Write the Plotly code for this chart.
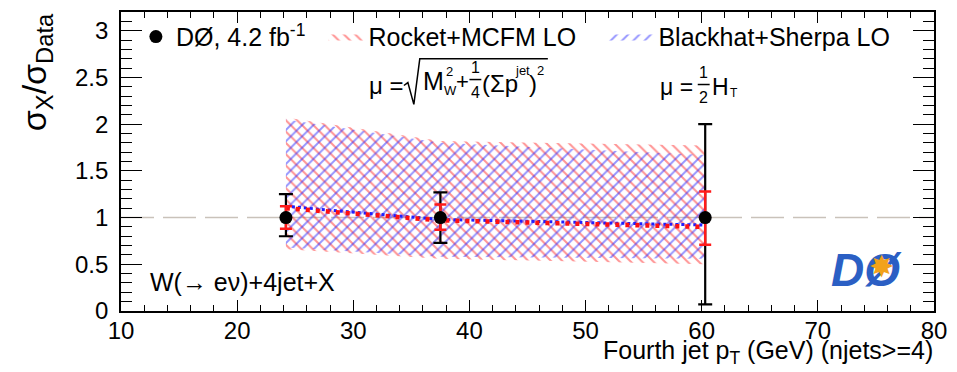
import plotly.graph_objects as go

# ---------------- data ----------------
pt = [24.2, 37.5, 60.3]                      # fourth jet pT bin positions (GeV)
data_ratio = [1.0, 1.0, 1.0]
data_err_up = [0.25, 0.27, 1.00]
data_err_dn = [0.20, 0.27, 0.93]

rocket_stat_up = [0.12, 0.14, 0.28]
rocket_stat_dn = [0.12, 0.13, 0.29]

rocket_central = [1.10, 0.97, 0.90]
rocket_upper = [2.07, 1.82, 1.77]
rocket_lower = [0.66, 0.56, 0.50]

blackhat_central = [1.12, 0.98, 0.92]
blackhat_upper = [2.05, 1.80, 1.67]
blackhat_lower = [0.68, 0.58, 0.56]

x_range = [10, 80]
y_range = [0, 3.2]

# ---------------- geometry helpers (plot frame in pixels) ----------------
W, H = 957, 372
L, R, T, B = 121, 940, 10, 311


def px(x):
    return (x - L) / (R - L)


def py(y):
    return (B - y) / (B - T)


FONT = "Liberation Sans"

fig = go.Figure()

# reference line at 1
fig.add_trace(go.Scatter(x=x_range, y=[1, 1], mode="lines",
                         line=dict(color="#c9c2ba", width=1.5, dash="33px,9px"),
                         showlegend=False, hoverinfo="skip"))

# Rocket band (red, backslash hatch)
fig.add_trace(go.Scatter(
    x=pt + pt[::-1], y=rocket_upper + rocket_lower[::-1],
    fill="toself", mode="lines", line=dict(width=0, color="red"),
    fillcolor="rgba(0,0,0,0)",
    fillpattern=dict(shape="\\", fgcolor="#ff2a2a", bgcolor="rgba(0,0,0,0)",
                     size=8, solidity=0.26),
    name="Rocket+MCFM LO", legend="legend2", hoverinfo="skip"))

# Blackhat band (blue, slash hatch)
fig.add_trace(go.Scatter(
    x=pt + pt[::-1], y=blackhat_upper + blackhat_lower[::-1],
    fill="toself", mode="lines", line=dict(width=0, color="blue"),
    fillcolor="rgba(0,0,0,0)",
    fillpattern=dict(shape="/", fgcolor="#2a2aff", bgcolor="rgba(0,0,0,0)",
                     size=8, solidity=0.24),
    name="Blackhat+Sherpa LO", legend="legend3", hoverinfo="skip"))

# central predictions
fig.add_trace(go.Scatter(x=pt, y=blackhat_central, mode="lines",
                         line=dict(color="#2020ff", width=3, dash="dot"),
                         showlegend=False, hoverinfo="skip"))
fig.add_trace(go.Scatter(x=pt, y=rocket_central, mode="lines",
                         line=dict(color="#ff1010", width=4.5, dash="4px,6px"),
                         showlegend=False, hoverinfo="skip"))

# data error bars (black), drawn below the red prediction bars
fig.add_trace(go.Scatter(x=pt, y=data_ratio, mode="markers",
                         marker=dict(size=1, color="black", opacity=0),
                         error_y=dict(type="data", symmetric=False,
                                      array=data_err_up, arrayminus=data_err_dn,
                                      color="black", thickness=2.2, width=7),
                         showlegend=False, hoverinfo="skip"))

# red stat error bars
fig.add_trace(go.Scatter(x=pt, y=data_ratio, mode="markers",
                         marker=dict(size=1, color="red", opacity=0),
                         error_y=dict(type="data", symmetric=False,
                                      array=rocket_stat_up, arrayminus=rocket_stat_dn,
                                      color="#ff1a1a", thickness=2.5, width=6),
                         showlegend=False, hoverinfo="skip"))

# data points
fig.add_trace(go.Scatter(x=pt, y=data_ratio, mode="markers",
                         marker=dict(size=13, color="black"),
                         name="DØ, 4.2 fb<sup>-1</sup>", legend="legend"))

axis_common = dict(showline=True, linecolor="black", linewidth=1.6, mirror="allticks",
                   ticks="inside", tickcolor="black", tickwidth=1.3,
                   showgrid=False, zeroline=False,
                   tickfont=dict(family=FONT, size=24, color="black"))

fig.update_xaxes(range=x_range, dtick=10, tick0=0, ticklen=11, ticklabelstandoff=-3,
                 minor=dict(dtick=2, ticks="inside", ticklen=6, tickcolor="black", tickwidth=1.2),
                 **axis_common)
fig.update_yaxes(range=y_range, dtick=0.5, tick0=0, ticklen=21, ticklabelstandoff=6,
                 minor=dict(dtick=0.1, ticks="inside", ticklen=11, tickcolor="black", tickwidth=1.2),
                 **axis_common)

annotations = []


def ann(text, x, y, size=24, xanchor="center", yanchor="middle", color="black", **kw):
    annotations.append(dict(text=text, x=px(x), y=py(y), xref="paper", yref="paper",
                            xanchor=xanchor, yanchor=yanchor, showarrow=False,
                            font=dict(family=FONT, size=size, color=color), **kw))


# axis titles
ann("σ<sub>X</sub>/σ<sub>Data</sub>", 36, 71, size=34, textangle=-90)
ann("Fourth jet p<sub>T</sub> (GeV) (njets>=4)", 941, 352, size=25, xanchor="right")

# process label
ann("W(→ eν)+4jet+X", 148, 282, size=25, xanchor="left")

# formula 1: mu = sqrt(M_W^2 + 1/4 (Sum p^jet)^2)
ann("μ =", 388, 84, size=24)
ann("M", 436, 79, size=25)
ann("W", 453, 89, size=13)
ann("2", 452, 70, size=13)
ann("+", 465, 80, size=22)
ann("1", 478, 66, size=16)
ann("4", 478, 91, size=16)
ann("(Σp", 483, 82, size=24, xanchor="left")
ann("jet", 525, 69, size=13)
ann(")", 536, 82, size=24)
ann("2", 544, 69, size=13)

# formula 2: mu = 1/2 H_T
ann("μ =", 681, 86, size=23)
ann("1", 708, 71, size=16)
ann("2", 708, 96, size=16)
ann("H", 725, 85, size=23)
ann("T", 739, 92, size=12)

# DØ logo (text approximation)
ann("<b><i>DØ</i></b>", 872, 270, size=46, color="#2b5fc4")
ann("✸", 887, 266, size=30, color="#f2a21a")

shapes = [
    # radical sign
    dict(type="path", xref="paper", yref="paper",
         path=f"M {px(406)} {py(84)} L {px(410)} {py(81)} L {px(416)} {py(103)} "
              f"L {px(422)} {py(57)} L {px(551)} {py(57)}",
         line=dict(color="black", width=1.5)),
    # fraction bars
    dict(type="line", xref="paper", yref="paper", x0=px(472), x1=px(484), y0=py(78), y1=py(78),
         line=dict(color="black", width=1.5)),
    dict(type="line", xref="paper", yref="paper", x0=px(702), x1=px(714), y0=py(83), y1=py(83),
         line=dict(color="black", width=1.5)),
]

legend_common = dict(orientation="h", bgcolor="rgba(0,0,0,0)", yanchor="middle",
                     xanchor="left", font=dict(family=FONT, size=25, color="black"),
                     itemclick=False, itemdoubleclick=False)

fig.update_layout(
    width=W, height=H,
    margin=dict(l=L, r=W - R, t=T, b=H - B),
    paper_bgcolor="white", plot_bgcolor="white",
    font=dict(family=FONT, color="black"),
    annotations=annotations, shapes=shapes,
    legend=dict(x=px(136), y=py(35), itemwidth=30, **legend_common),
    legend2=dict(x=px(325), y=py(35), itemwidth=35, **legend_common),
    legend3=dict(x=px(607), y=py(35), itemwidth=45, **legend_common),
)

fig.write_html("out.html")
